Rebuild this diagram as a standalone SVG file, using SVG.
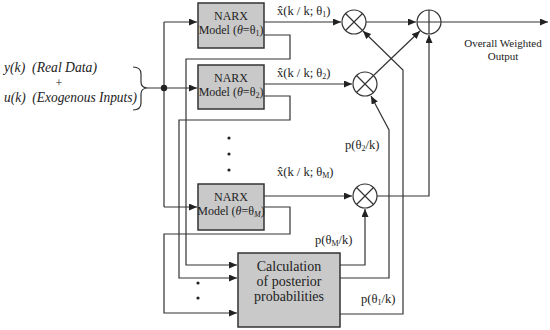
<svg xmlns="http://www.w3.org/2000/svg" width="550" height="330" viewBox="0 0 550 330">
<defs>
<marker id="ah" markerWidth="9" markerHeight="8" refX="8" refY="3.5" orient="auto" markerUnits="userSpaceOnUse">
<path d="M0,0 L8,3.5 L0,7 z" fill="#222"/>
</marker>
<style>
.ln{fill:none;stroke:#333;stroke-width:1.2}
.ar{fill:none;stroke:#333;stroke-width:1.2;marker-end:url(#ah)}
.box{fill:#c9c9c9;stroke:#333;stroke-width:1.5}
.op{fill:#fff;stroke:#333;stroke-width:1.2}
.t{font-family:"Liberation Serif",serif;fill:#222}
.bt{font-family:"Liberation Serif",serif;font-size:12px;fill:#222;text-anchor:middle}
.it{font-family:"Liberation Serif",serif;font-style:italic;font-size:14px;fill:#222}
.lb{font-family:"Liberation Serif",serif;font-size:12.5px;fill:#222}
.dot{fill:#222}
</style>
</defs>
<rect width="550" height="330" fill="#fff"/>

<g id="input-label">
<text class="it" x="4" y="72" xml:space="preserve" textLength="93" lengthAdjust="spacingAndGlyphs">y(k)  (Real Data)</text>
<text class="t" x="59" y="87" font-size="12" text-anchor="middle">+</text>
<text class="it" x="4" y="102" xml:space="preserve" textLength="133" lengthAdjust="spacingAndGlyphs">u(k)  (Exogenous Inputs)</text>
</g>

<g id="connectors">
<path class="ln" d="M133,67 Q141,67 141,74 L141,82 Q141,88 148,88 Q141,88 141,94 L141,103 Q141,110 133,110"/>
<path class="ar" d="M148,88 L197,88"/>
<path class="ln" d="M164,22 L164,207"/>
<path class="ar" d="M164,22 L197,22"/>
<path class="ar" d="M164,207 L197,207"/>
<circle class="dot" cx="164" cy="88" r="3.2"/>
<path class="ar" d="M264,22 L341,22"/>
<path class="ar" d="M264,84 L352,84"/>
<path class="ar" d="M264,196 L352,196"/>
<path class="ar" d="M264,35 L290,35 L290,59 L186,59 L186,265 L237,265"/>
<path class="ar" d="M264,96 L290,96 L290,120 L179,120 L179,278 L237,278"/>
<path class="ar" d="M264,207 L290,207 L290,234 L164,234 L164,313 L237,313"/>
<path class="ar" d="M366,22 L416,22"/>
<path class="ar" d="M374,75 L420,31"/>
<path class="ar" d="M377,196 L429,196 L429,35"/>
<path class="ar" d="M441,22 L548,22"/>
<path class="ar" d="M340,265 L365,265 L365,209"/>
<path class="ar" d="M340,278 L389,278 L389,130 L371,96"/>
<path class="ar" d="M340,314 L403,314 L403,70 L363,31"/>
</g>

<g id="narx1">
<rect class="box" x="198" y="3" width="66" height="45"/>
<text class="bt" x="231" y="20">NARX</text>
<text class="bt" x="231" y="34">Model (<tspan font-style="italic">θ</tspan>=θ<tspan font-size="8" dy="2">1</tspan><tspan dy="-2">)</tspan></text>
</g>
<g id="narx2">
<rect class="box" x="198" y="65" width="66" height="44"/>
<text class="bt" x="231" y="82">NARX</text>
<text class="bt" x="231" y="96">Model (<tspan font-style="italic">θ</tspan>=θ<tspan font-size="8" dy="2">2</tspan><tspan dy="-2">)</tspan></text>
</g>
<g id="narxM">
<rect class="box" x="198" y="184" width="66" height="46"/>
<text class="bt" x="231" y="201">NARX</text>
<text class="bt" x="231" y="215">Model (<tspan font-style="italic">θ</tspan>=θ<tspan font-size="8" font-style="italic" dy="2">M</tspan><tspan dy="-2">)</tspan></text>
</g>
<g id="calc">
<rect class="box" x="238" y="253" width="102" height="74"/>
<text class="t" x="289" y="271" font-size="14" text-anchor="middle">Calculation</text>
<text class="t" x="289" y="286" font-size="14" text-anchor="middle">of posterior</text>
<text class="t" x="289" y="301" font-size="14" text-anchor="middle">probabilities</text>
</g>

<g id="mult1">
<circle class="op" cx="354" cy="22" r="12"/>
<path class="ln" d="M345.5,13.5 L362.5,30.5 M362.5,13.5 L345.5,30.5"/>
</g>
<g id="mult2">
<circle class="op" cx="365" cy="84" r="12" stroke-width="2"/>
<path class="ln" d="M356.5,75.5 L373.5,92.5 M373.5,75.5 L356.5,92.5" stroke-width="1.6"/>
</g>
<g id="multM">
<circle class="op" cx="365" cy="196" r="12"/>
<path class="ln" d="M356.5,187.5 L373.5,204.5 M373.5,187.5 L356.5,204.5"/>
</g>
<g id="summer">
<circle class="op" cx="429" cy="22" r="12"/>
<path class="ln" d="M417,22 L441,22 M429,10 L429,34"/>
</g>

<g id="dots">
<circle class="dot" cx="229" cy="138" r="1.6"/>
<circle class="dot" cx="229" cy="154" r="1.6"/>
<circle class="dot" cx="229" cy="170" r="1.6"/>
<circle class="dot" cx="198" cy="283" r="1.6"/>
<circle class="dot" cx="198" cy="298" r="1.6"/>
</g>

<g id="labels">
<text class="lb" x="277" y="15">x̂(k / k; θ<tspan font-size="8" dy="2">1</tspan><tspan dy="-2">)</tspan></text>
<text class="lb" x="277" y="77">x̂(k / k; θ<tspan font-size="8" dy="2">2</tspan><tspan dy="-2">)</tspan></text>
<text class="lb" x="277" y="176">x̂(k / k; θ<tspan font-size="8" dy="2">M</tspan><tspan dy="-2">)</tspan></text>
<text class="lb" x="345" y="149">p(θ<tspan font-size="8" dy="2">2</tspan><tspan dy="-2">/k)</tspan></text>
<text class="lb" x="315" y="244">p(θ<tspan font-size="8" dy="2">M</tspan><tspan dy="-2">/k)</tspan></text>
<text class="lb" x="361" y="303">p(θ<tspan font-size="8" dy="2">1</tspan><tspan dy="-2">/k)</tspan></text>
<text class="t" x="503" y="47" font-size="11" text-anchor="middle">Overall Weighted</text>
<text class="t" x="503" y="60" font-size="11" text-anchor="middle">Output</text>
</g>
</svg>
